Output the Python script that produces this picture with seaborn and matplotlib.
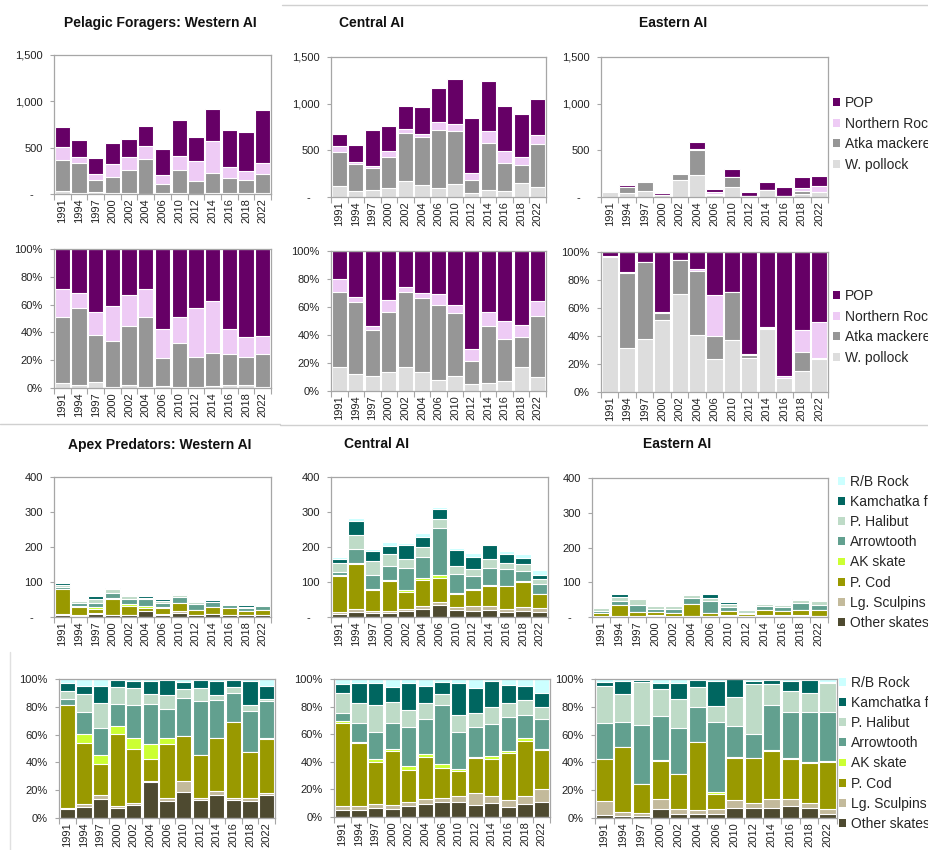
import matplotlib
matplotlib.use("Agg")
import matplotlib.pyplot as plt
import seaborn as sns
import numpy as np
from matplotlib.patches import Patch
from matplotlib.lines import Line2D

sns.set_theme(style="white")
plt.rcParams["font.family"] = ["Liberation Sans", "DejaVu Sans"]

# ---------------------------------------------------------------- data
years = ["1991", "1994", "1997", "2000", "2002", "2004", "2006",
         "2010", "2012", "2014", "2016", "2018", "2022"]

# Pelagic foragers: total biomass (1,000 t) per survey year
pel_tot_west = [718, 585, 388, 546, 596, 736, 481, 797, 614, 912, 693, 668, 904]
pel_tot_central = [679, 561, 714, 761, 975, 964, 1171, 1264, 846, 1246, 975, 893, 1046]
pel_tot_east = [54, 129, 175, 45, 258, 584, 82, 302, 57, 160, 104, 210, 229]

# Pelagic foragers: composition (% of total), bottom of stack first
pel_west = {
    "W. pollock": [3.8, 2.4, 4.5, 1.0, 2.2, 0.5, 1.7, 0.7, 0.5, 1.7, 2.2, 2.4, 0.7],
    "Atka mackerel": [47.2, 55.3, 33.8, 32.7, 42.1, 50.9, 20.1, 31.8, 21.7, 23.2, 22.2, 19.8, 23.5],
    "Northern Rockfish": [20.0, 11.0, 16.5, 25.4, 22.9, 19.6, 20.8, 18.5, 35.0, 38.0, 17.7, 14.4, 13.1],
    "POP": [29.0, 31.3, 45.2, 40.9, 32.8, 29.0, 57.4, 49.0, 42.8, 37.1, 57.9, 63.4, 62.7],
}
pel_central = {
    "W. pollock": [17.1, 11.9, 10.7, 13.3, 17.1, 13.3, 8.1, 10.7, 5.0, 6.0, 6.9, 17.1, 10.2],
    "Atka mackerel": [53.4, 51.7, 32.6, 43.4, 53.4, 52.9, 53.3, 45.3, 16.7, 40.4, 30.2, 21.7, 43.6],
    "Northern Rockfish": [9.7, 3.8, 2.9, 8.1, 4.0, 4.0, 7.6, 5.7, 8.1, 10.0, 12.9, 8.6, 10.2],
    "POP": [19.8, 32.6, 53.8, 35.2, 25.5, 29.8, 31.0, 38.3, 70.2, 43.6, 50.0, 52.6, 36.0],
}
pel_east = {
    "W. pollock": [96.4, 31.5, 38.0, 51.7, 70.2, 40.7, 23.8, 36.9, 24.5, 44.8, 10.0, 15.0, 23.8],
    "Atka mackerel": [0.3, 53.5, 55.0, 5.0, 23.8, 45.7, 16.2, 34.5, 1.7, 1.2, 0.2, 13.3, 0.3],
    "Northern Rockfish": [0.7, 1.0, 0.2, 0.3, 0.2, 1.2, 29.5, 0.2, 1.2, 0.3, 1.2, 16.2, 25.9],
    "POP": [2.6, 14.0, 6.8, 43.0, 5.8, 12.4, 30.5, 28.4, 72.6, 53.7, 88.6, 55.5, 50.0],
}

# Apex predators: total biomass (1,000 t) per survey year
apex_tot_west = [100, 52, 63, 84, 64, 61, 51, 67, 45, 50, 38, 35, 36]
apex_tot_central = [172, 283, 195, 215, 212, 241, 314, 197, 182, 208, 188, 179, 134]
apex_tot_east = [26, 66, 53, 33, 37, 67, 68, 42, 21, 39, 39, 53, 47]

# Apex predators: composition (% of total), bottom of stack first
apex_west = {
    "Other skates": [6.3, 7.7, 13.5, 7.0, 9.6, 26.0, 12.0, 18.8, 13.2, 16.3, 13.0, 12.3, 16.3],
    "Lg. Sculpins": [0.9, 2.6, 2.8, 1.4, 1.2, 0.9, 2.4, 7.6, 1.2, 2.9, 1.7, 2.1, 2.0],
    "P. Cod": [73.8, 43.5, 22.2, 51.7, 38.7, 15.9, 38.5, 32.3, 30.6, 38.0, 54.5, 33.2, 38.4],
    "AK skate": [0.0, 6.8, 6.7, 6.2, 8.4, 10.6, 5.0, 0.4, 0.0, 0.0, 0.0, 0.0, 0.5],
    "Arrowtooth": [4.8, 15.6, 19.9, 15.7, 23.1, 28.6, 20.7, 27.2, 39.4, 27.9, 20.9, 29.3, 26.9],
    "P. Halibut": [5.5, 12.8, 17.4, 12.5, 12.3, 7.2, 9.6, 6.5, 8.9, 3.4, 4.1, 4.1, 1.7],
    "Kamchatka flounder": [6.1, 6.0, 12.5, 4.5, 5.3, 9.6, 11.1, 5.3, 6.0, 10.1, 5.1, 17.6, 9.4],
    "R/B Rock": [2.6, 5.0, 5.0, 1.0, 1.4, 1.2, 0.7, 1.9, 0.7, 1.4, 0.7, 1.4, 4.8],
}
apex_central = {
    "Other skates": [4.8, 5.3, 6.5, 5.8, 8.2, 9.6, 10.6, 10.6, 8.9, 10.1, 7.2, 9.6, 10.6],
    "Lg. Sculpins": [2.9, 2.7, 2.9, 2.6, 2.4, 3.4, 2.9, 4.3, 8.4, 4.8, 4.8, 5.8, 9.6],
    "P. Cod": [60.7, 45.5, 30.4, 39.1, 23.6, 30.4, 21.9, 18.4, 25.4, 27.3, 34.7, 40.0, 28.5],
    "AK skate": [1.2, 1.2, 1.9, 1.7, 2.4, 2.4, 2.9, 1.4, 0.7, 1.7, 0.8, 1.5, 0.7],
    "Arrowtooth": [5.6, 13.7, 20.2, 19.2, 28.9, 25.5, 42.9, 27.0, 21.7, 23.6, 24.8, 17.1, 21.4],
    "P. Halibut": [14.9, 14.5, 19.5, 15.0, 12.1, 11.1, 8.0, 12.3, 10.6, 12.5, 10.1, 10.8, 9.2],
    "Kamchatka flounder": [6.0, 14.0, 15.5, 11.1, 19.7, 12.8, 8.9, 22.9, 18.0, 18.8, 13.3, 10.1, 10.1],
    "R/B Rock": [3.9, 3.1, 3.1, 5.5, 2.7, 4.8, 1.9, 3.1, 6.3, 1.2, 4.3, 5.1, 9.9],
}
apex_east = {
    "Other skates": [1.9, 1.4, 1.7, 6.7, 2.7, 3.1, 3.1, 7.2, 7.2, 7.5, 8.7, 7.2, 3.1],
    "Lg. Sculpins": [10.1, 2.7, 1.9, 6.8, 4.0, 2.4, 3.2, 5.6, 3.4, 6.5, 4.8, 3.6, 3.6],
    "P. Cod": [30.2, 46.7, 21.0, 27.5, 25.1, 49.0, 10.8, 30.1, 32.8, 34.4, 28.9, 29.0, 33.8],
    "AK skate": [0.0, 0.0, 0.0, 0.7, 0.0, 0.4, 1.9, 1.2, 0.0, 0.5, 0.5, 0.4, 0.5],
    "Arrowtooth": [26.2, 18.4, 42.1, 31.8, 33.0, 24.9, 50.4, 22.4, 17.1, 32.3, 33.2, 36.2, 34.9],
    "P. Halibut": [26.3, 20.0, 31.1, 19.5, 20.7, 14.2, 11.3, 20.2, 36.1, 15.4, 15.2, 13.5, 21.2],
    "Kamchatka flounder": [2.9, 9.1, 1.2, 4.1, 11.6, 5.5, 17.6, 13.3, 1.7, 2.4, 7.0, 9.6, 1.0],
    "R/B Rock": [2.4, 1.7, 1.0, 2.9, 2.9, 0.5, 1.7, 0.0, 1.7, 1.0, 1.7, 0.5, 1.9],
}

pel_colors = {
    "W. pollock": "#DDDDDD",
    "Atka mackerel": "#969696",
    "Northern Rockfish": "#EECBF5",
    "POP": "#660066",
}
apex_colors = {
    "Other skates": "#4E4A30",
    "Lg. Sculpins": "#C3BA9B",
    "P. Cod": "#999900",
    "AK skate": "#CCFF33",
    "Arrowtooth": "#62A08F",
    "P. Halibut": "#BEDBC7",
    "Kamchatka flounder": "#006660",
    "R/B Rock": "#CCFFFF",
}

# ---------------------------------------------------------------- figure
W, H = 929, 850
fig = plt.figure(figsize=(W / 100, H / 100), dpi=100)
GRAY = "#A6A6A6"


def box(x0, y0, x1, y1):
    """Pixel box (left, top, right, bottom) -> figure fraction rect."""
    return [x0 / W, 1 - y1 / H, (x1 - x0) / W, (y1 - y0) / H]


def stacked(rect, shares, totals, colors, pct, yticks, ylabels):
    ax = fig.add_axes(box(*rect))
    species = list(shares)
    arr = np.array([shares[s] for s in species], dtype=float)
    frac = arr / arr.sum(axis=0)
    vals = frac * 100 if pct else frac * np.array(totals, dtype=float)
    cum = np.cumsum(vals, axis=0)
    # draw the cumulative heights from the top layer downwards
    for k in range(len(species) - 1, -1, -1):
        sns.barplot(x=years, y=cum[k], order=years, color=colors[species[k]],
                    saturation=1, width=0.92, edgecolor="white", linewidth=0.8,
                    errorbar=None, ax=ax)
    ax.set_xlim(-0.5, len(years) - 0.5)
    ax.set_ylim(yticks[0], yticks[-1])
    ax.set_yticks(yticks)
    ax.set_yticklabels(ylabels)
    ax.set_xlabel("")
    ax.set_ylabel("")
    ax.set_xticks(np.arange(len(years)))
    ax.set_xticklabels(years, rotation=90)
    ax.set_xticks(np.arange(-0.5, len(years), 1.0), minor=True)
    ax.tick_params(axis="x", which="major", bottom=False, length=0, pad=3,
                   labelsize=8, labelcolor="#222222")
    ax.tick_params(axis="x", which="minor", bottom=True, length=4, width=0.8,
                   color=GRAY, direction="out")
    ax.tick_params(axis="y", left=True, length=3, width=0.8, color=GRAY,
                   direction="out", labelsize=8, pad=5, labelcolor="#222222")
    for sp in ax.spines.values():
        sp.set_color(GRAY)
        sp.set_linewidth(0.9)
    ax.grid(False)
    return ax


pel_ticks = [0, 500, 1000, 1500]
pel_labels = ["-   ", "500", "1,000", "1,500"]
apex_ticks = [0, 100, 200, 300, 400]
apex_labels = ["-   ", "100", "200", "300", "400"]
pct_ticks = [0, 20, 40, 60, 80, 100]
pct_labels = ["0%", "20%", "40%", "60%", "80%", "100%"]

# Row 1: pelagic foragers, biomass
stacked((54, 55, 271, 194), pel_west, pel_tot_west, pel_colors, False, pel_ticks, pel_labels)
stacked((331, 57, 546, 197), pel_central, pel_tot_central, pel_colors, False, pel_ticks, pel_labels)
stacked((601, 57, 828, 197), pel_east, pel_tot_east, pel_colors, False, pel_ticks, pel_labels)
# Row 2: pelagic foragers, percent composition
stacked((54, 249, 271, 388), pel_west, pel_tot_west, pel_colors, True, pct_ticks, pct_labels)
stacked((331, 251, 546, 391), pel_central, pel_tot_central, pel_colors, True, pct_ticks, pct_labels)
stacked((601, 252, 828, 392), pel_east, pel_tot_east, pel_colors, True, pct_ticks, pct_labels)
# Row 3: apex predators, biomass
stacked((54, 477, 271, 617), apex_west, apex_tot_west, apex_colors, False, apex_ticks, apex_labels)
stacked((331, 477, 548, 617), apex_central, apex_tot_central, apex_colors, False, apex_ticks, apex_labels)
stacked((592, 478, 828, 617), apex_east, apex_tot_east, apex_colors, False, apex_ticks, apex_labels)
# Row 4: apex predators, percent composition
stacked((59, 679, 275, 818), apex_west, apex_tot_west, apex_colors, True, pct_ticks, pct_labels)
stacked((334, 679, 550, 817), apex_central, apex_tot_central, apex_colors, True, pct_ticks, pct_labels)
stacked((595, 679, 837, 818), apex_east, apex_tot_east, apex_colors, True, pct_ticks, pct_labels)

# Panel titles
title_kw = dict(ha="center", va="center", fontsize=10, fontweight="bold", color="#111111")
fig.text(160 / W, 1 - 23 / H, "Pelagic Foragers: Western AI", **title_kw)
fig.text(372 / W, 1 - 23 / H, "Central AI", **title_kw)
fig.text(673 / W, 1 - 23 / H, "Eastern AI", **title_kw)
fig.text(160 / W, 1 - 445 / H, "Apex Predators: Western AI", **title_kw)
fig.text(376 / W, 1 - 444 / H, "Central AI", **title_kw)
fig.text(677 / W, 1 - 444 / H, "Eastern AI", **title_kw)


def legend(colors, x, y_top, spacing):
    names = list(colors)[::-1]
    handles = [Patch(facecolor=colors[n], edgecolor="none", label=n) for n in names]
    fig.legend(handles=handles, loc="upper left", bbox_to_anchor=(x / W, 1 - y_top / H),
               frameon=False, fontsize=10, handlelength=0.5, handleheight=0.5,
               handletextpad=0.35, labelspacing=spacing, borderpad=0, borderaxespad=0)


legend(pel_colors, 833, 96, 0.48)
legend(pel_colors, 833, 289, 0.48)
legend(apex_colors, 838, 475, 0.44)
legend(apex_colors, 839, 676, 0.44)

# Section separators
sep = "#D0D0D0"
for (x0, x1, y) in [(282, 929, 5), (0, 280, 424), (280, 929, 425)]:
    fig.add_artist(Line2D([x0 / W, x1 / W], [1 - y / H, 1 - y / H], color=sep,
                          lw=1, transform=fig.transFigure))
fig.add_artist(Line2D([10 / W, 10 / W], [1 - 652 / H, 0], color="#E0E0E0",
                      lw=1, transform=fig.transFigure))

fig.savefig("out.png", dpi=100)
